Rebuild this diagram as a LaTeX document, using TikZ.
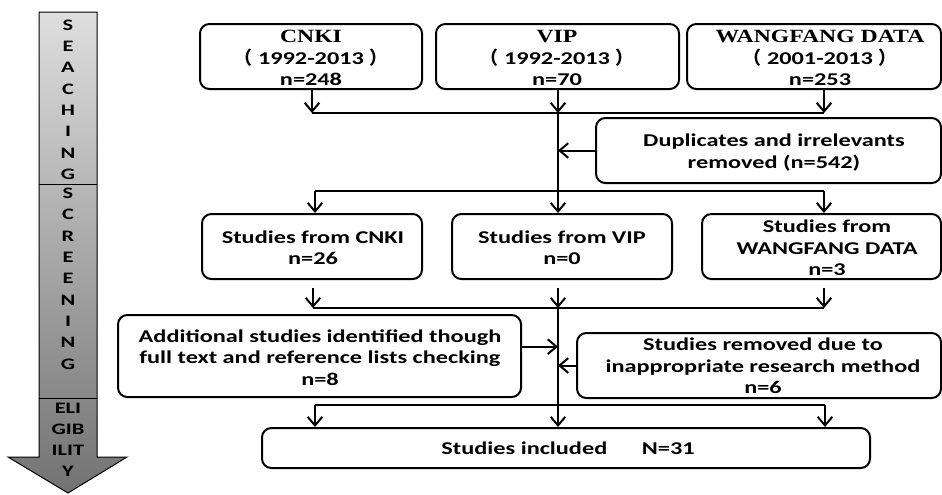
\documentclass[tikz,border=0pt]{standalone}
\usepackage{fontspec}
\setmainfont{Carlito}[FakeStretch=1.35]
\newfontfamily\tms{Liberation Serif}[FakeStretch=1.27]
\newfontfamily\cjk{Noto Sans CJK SC}
\newfontfamily\sidefont{Carlito}[FakeStretch=1.4]
\usetikzlibrary{arrows.meta,fit}
\newcommand{\lpar}{{\cjk （}\hspace{4pt}}
\newcommand{\rpar}{\hspace{4pt}{\cjk ）}}
\tikzset{
  box/.style={draw, line width=1.5pt, rounded corners=7pt, inner sep=0pt},
  txt/.style={font=\bfseries\fontsize{13.5}{16}\selectfont, align=center, inner sep=0pt},
  ln/.style={line width=1.5pt},
  arw/.style={line width=1.5pt, -{Straight Barb[length=6.5pt,width=11pt]}},
  side/.style={font=\sidefont\bfseries\fontsize{12}{16}\selectfont, align=center, inner sep=0pt},
}
\begin{document}
\begin{tikzpicture}[x=0.75pt,y=-0.75pt]
\useasboundingbox (0,0) rectangle (942,494);
% side arrow
\shadedraw[top color=black!13, bottom color=black!55, line width=0.75pt]
  (39,12) -- (97,12) -- (97,457) -- (127,457) -- (68,493) -- (8,457) -- (39,457) -- cycle;
\draw[line width=0.75pt] (39,184) -- (97,184);
\draw[line width=0.75pt] (39,398) -- (97,398);
\node[side] (sea) at (68,99.5) {S\\E\\A\\C\\H\\I\\N\\G};
\node[side] (scr) at (68,278.5) {S\\C\\R\\E\\E\\N\\I\\N\\G};
\node[side, font=\sidefont\bfseries\fontsize{12}{15.75}\selectfont] (eli) at (68,440) {ELI\\GIB\\ILIT\\Y};
% boxes
\node[box, fit={(200,24) (422,89)}] (cnki) {};
\node[box, fit={(436,24) (679,89)}] (vip) {};
\node[box, fit={(687,24) (941,89)}] (wf) {};
\node[box, fit={(596,118) (941,183)}] (dup) {};
\node[box, fit={(202,214) (422,279)}] (s1) {};
\node[box, fit={(452,214) (672,279)}] (s2) {};
\node[box, fit={(702,214) (941,279)}] (s3) {};
\node[box, fit={(118,315) (521,397)}] (add) {};
\node[box, fit={(577,333) (941,398)}] (rem) {};
\node[box, fit={(262,428) (870,468)}] (inc) {};
% texts
\node[txt] (tcnki) at (311,58) {{\tms\fontsize{14}{16}\selectfont CNKI}\\\lpar 1992-2013\rpar\\n=248};
\node[txt] (tvip) at (557,58) {{\tms\fontsize{14}{16}\selectfont VIP}\\\lpar 1992-2013\rpar\\n=70};
\node[txt] (twf) at (820,58) {{\tms\fontsize{14}{16}\selectfont WANGFANG DATA}\\\lpar 2001-2013\rpar\\n=253};
\node[txt] (tdup) at (774,152.5) {Duplicates and irrelevants\\removed (n=542)};
\node[txt] (ts1) at (313,247.5) {Studies from CNKI\\n=26};
\node[txt] (ts2) at (562,247.5) {Studies from VIP\\n=0};
\node[txt] (ts3) at (827,248) {Studies from\\WANGFANG DATA\\n=3};
\node[txt] (tadd) at (320,357.5) {Additional studies identified though\\full text and reference lists checking\\n=8};
\node[txt] (trem) at (763,366) {Studies removed due to\\inappropriate research method\\n=6};
\node[txt] (tinc) at (568,448) {Studies included\hspace{26pt}N=31};
% connectors
\coordinate (a1) at (312,113); \coordinate (a2) at (558,113); \coordinate (a3) at (824,113);
\draw[arw] (cnki.south -| a1) -- (a1);
\draw[arw] (vip.south -| a2) -- (a2);
\draw[arw] (wf.south -| a3) -- (a3);
\draw[ln] (a1) -- (a3);
\coordinate (b1) at (315,191); \coordinate (b2) at (558,191); \coordinate (b3) at (824,191);
\draw[ln] (a2) -- (b2);
\draw[arw] (dup.west) -- (dup.west -| a2);
\draw[ln] (b1) -- (b3);
\draw[arw] (b1) -- (s1.north -| b1);
\draw[arw] (b2) -- (s2.north -| b2);
\draw[arw] (b3) -- (s3.north -| b3);
\coordinate (c1) at (313,308); \coordinate (c2) at (558,308); \coordinate (c3) at (824,308);
\draw[arw] ([yshift=-6pt]s1.south -| c1) -- (c1);
\draw[arw] ([yshift=-6pt]s2.south -| c2) -- (c2);
\draw[arw] ([yshift=-6pt]s3.south -| c3) -- (c3);
\draw[ln] (c1) -- (c3);
\draw[arw] (c2) -- (inc.north -| c2);
\draw[arw] ([yshift=7pt]add.east) -- ([yshift=7pt]add.east -| c2);
\draw[arw] (rem.west) -- (rem.west -| c2);
\coordinate (d1) at (315,405); \coordinate (d3) at (825,405);
\draw[ln] (d1) -- (d3);
\draw[arw] (d1) -- (inc.north -| d1);
\draw[arw] (d3) -- (inc.north -| d3);
\end{tikzpicture}
\end{document}
